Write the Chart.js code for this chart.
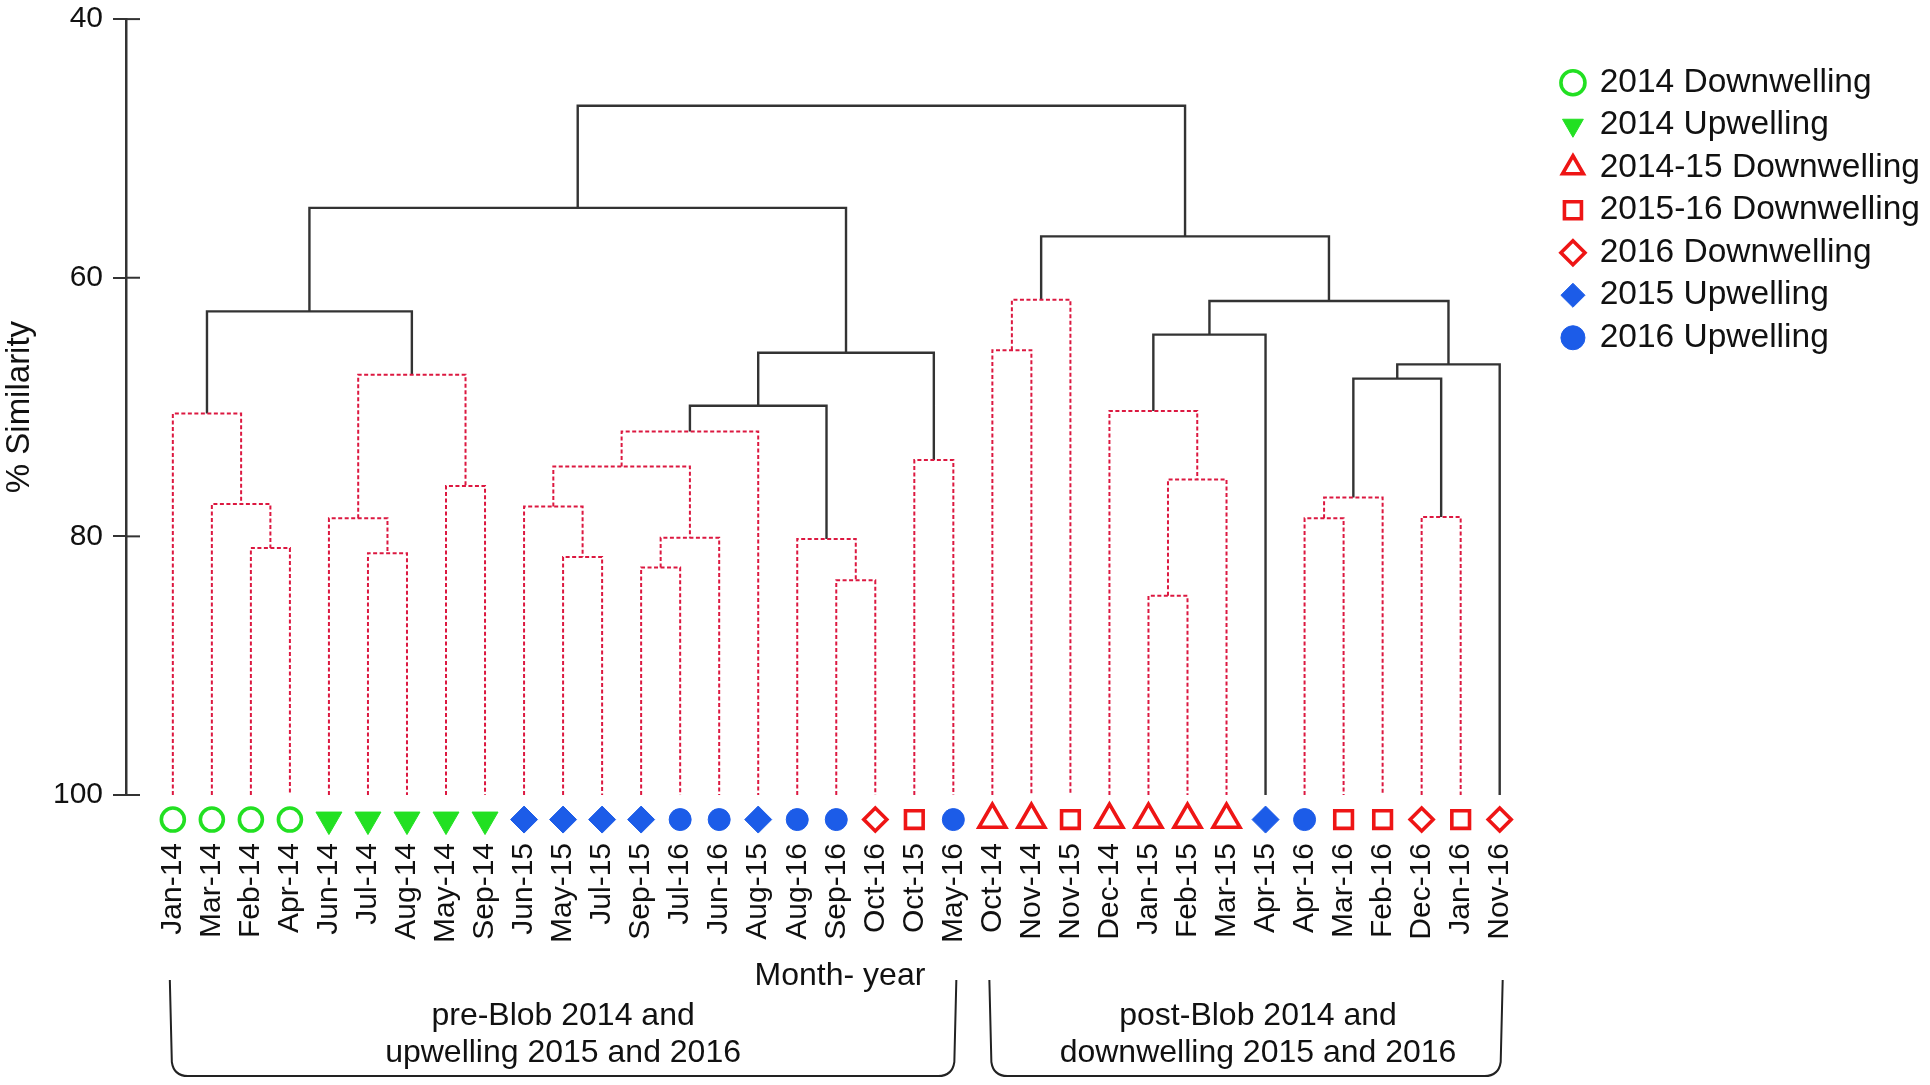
<!DOCTYPE html>
<html>
<head>
<meta charset="utf-8">
<title>Month-year similarity dendrogram</title>
<script src="https://cdn.jsdelivr.net/npm/chart.js@4.4.1/dist/chart.umd.min.js"></script>
<style>
  html, body { margin: 0; padding: 0; background: #fff; }
</style>
</head>
<body>
<canvas id="dendro" width="1930" height="1085"></canvas>
<script>
const leaf_labels = [
  "Jan-14", "Mar-14", "Feb-14", "Apr-14", "Jun-14", "Jul-14", "Aug-14", "May-14", "Sep-14",
  "Jun-15", "May-15", "Jul-15", "Sep-15", "Jul-16", "Jun-16", "Aug-15", "Aug-16", "Sep-16",
  "Oct-16", "Oct-15", "May-16", "Oct-14", "Nov-14", "Nov-15", "Dec-14", "Jan-15", "Feb-15",
  "Mar-15", "Apr-15", "Apr-16", "Mar-16", "Feb-16", "Dec-16", "Jan-16", "Nov-16",
];
const leaf_groups = [
  0, 0, 0, 0, 1, 1, 1, 1, 1,
  5, 5, 5, 5, 6, 6, 5, 6, 6,
  4, 3, 6, 2, 2, 3, 2, 2, 2,
  2, 5, 6, 3, 3, 4, 3, 4,
];
const group_names = [
  "2014 Downwelling", "2014 Upwelling", "2014-15 Downwelling", "2015-16 Downwelling",
  "2016 Downwelling", "2015 Upwelling", "2016 Upwelling",
];

// [left, right, % similarity, significant]; ids < 35 are leaves, 35 + k is merge k
const linkage = [
  [2, 3, 80.9, 0], [1, 35, 77.5, 0], [0, 36, 70.5, 0],
  [5, 6, 81.3, 0], [4, 38, 78.6, 0], [7, 8, 76.1, 0], [39, 40, 67.5, 0],
  [37, 41, 62.6, 1],
  [10, 11, 81.6, 0], [9, 43, 77.7, 0], [12, 13, 82.4, 0], [45, 14, 80.1, 0],
  [44, 46, 74.6, 0], [47, 15, 71.9, 0], [17, 18, 83.4, 0], [16, 49, 80.2, 0],
  [48, 50, 69.9, 1], [19, 20, 74.1, 0], [51, 52, 65.8, 1], [42, 53, 54.6, 1],
  [21, 22, 65.6, 0], [55, 23, 61.7, 0],
  [25, 26, 84.6, 0], [57, 27, 75.6, 0], [24, 58, 70.3, 0], [59, 28, 64.4, 1],
  [29, 30, 78.6, 0], [61, 31, 77.0, 0], [32, 33, 78.5, 0], [62, 63, 67.8, 1],
  [64, 34, 66.7, 1], [60, 65, 61.8, 1], [56, 66, 56.8, 1], [54, 67, 46.7, 1],
];
const y_ticks = [40, 60, 80, 100];

const bracket_first = [0, 21];
const bracket_last = [20, 34];
const bracket_text = [
  ["pre-Blob 2014 and", "upwelling 2015 and 2016"],
  ["post-Blob 2014 and", "downwelling 2015 and 2016"],
];

const font_family = "'Liberation Sans', Arial, sans-serif";
const green = "#22e022";
const red = "#ee1515";
const blue = "#1c5ce8";
const group_styles = [
  { shape: "circle", color: green, filled: false, radius: 11.5 },
  { shape: "triangle", color: green, filled: true, radius: 15, rotation: 180 },
  { shape: "triangle", color: red, filled: false, radius: 15.5 },
  { shape: "rect", color: red, filled: false, radius: 12.5 },
  { shape: "rectRot", color: red, filled: false, radius: 11.5 },
  { shape: "rectRot", color: blue, filled: true, radius: 13.5 },
  { shape: "circle", color: blue, filled: true, radius: 11 },
];
const marker_level = 101.9;
const bracket_text_shift = [0, 12];

// leaf i sits at x = i, each merge in the middle of its two children
const node_x = leaf_labels.map((_, i) => i);
const node_sim = leaf_labels.map(() => 100);
linkage.forEach(([a, b, sim]) => {
  node_x.push((node_x[a] + node_x[b]) / 2);
  node_sim.push(sim);
});

const marker_sets = group_names.map((name, g) => {
  const st = group_styles[g];
  return {
    label: name,
    data: leaf_labels
      .map((_, i) => ({ x: i, y: marker_level }))
      .filter((p) => leaf_groups[p.x] === g),
    pointStyle: st.shape,
    pointRotation: st.rotation || 0,
    pointRadius: st.radius,
    pointHoverRadius: st.radius,
    pointBorderWidth: st.filled ? 1 : 3.6,
    pointBackgroundColor: st.filled ? st.color : "#fff",
    pointBorderColor: st.color,
    backgroundColor: st.filled ? st.color : "#fff",
    borderColor: st.color,
    clip: false,
  };
});

const link_sets = linkage.map(([a, b, sim, sig]) => ({
  label: "",
  data: [
    { x: node_x[a], y: node_sim[a] },
    { x: node_x[a], y: sim },
    { x: node_x[b], y: sim },
    { x: node_x[b], y: node_sim[b] },
  ],
  showLine: true,
  pointRadius: 0,
  borderColor: sig ? "#333" : "#dc1840",
  borderWidth: sig ? 2.4 : 2,
  borderDash: sig ? [] : [4, 2.5],
  borderCapStyle: "butt",
  borderJoinStyle: "miter",
  tension: 0,
  fill: false,
}));

const extras = {
  id: "extras",
  afterDatasetsDraw(chart) {
    // markers sit just under the 100 line, outside the plot area
    group_names.forEach((_, i) => {
      chart.getDatasetMeta(i).data.forEach((pt) => pt.draw(chart.ctx));
    });
  },
  afterDraw(chart) {
    const { ctx, chartArea, scales } = chart;
    ctx.save();
    // y ticks cross the axis line
    ctx.strokeStyle = "#333";
    ctx.lineWidth = 2;
    y_ticks.forEach((v) => {
      const y = scales.y.getPixelForValue(v);
      ctx.beginPath();
      ctx.moveTo(chartArea.left, y);
      ctx.lineTo(chartArea.left + 14, y);
      ctx.stroke();
    });

    // group brackets under the axis
    const top = 980;
    const bot = chart.height - 9;
    ctx.strokeStyle = "#222";
    ctx.lineWidth = 2;
    ctx.fillStyle = "#111";
    ctx.font = "32px " + font_family;
    ctx.textAlign = "center";
    ctx.textBaseline = "middle";
    bracket_text.forEach((lines, k) => {
      const x0 = scales.x.getPixelForValue(bracket_first[k]) - 3;
      const x1 = scales.x.getPixelForValue(bracket_last[k]) + 3;
      ctx.beginPath();
      ctx.moveTo(x0, top);
      ctx.lineTo(x0 + 2, bot - 14);
      ctx.quadraticCurveTo(x0 + 4, bot, x0 + 18, bot);
      ctx.lineTo(x1 - 18, bot);
      ctx.quadraticCurveTo(x1 - 4, bot, x1 - 2, bot - 14);
      ctx.lineTo(x1, top);
      ctx.stroke();
      const cx = (x0 + x1) / 2 + bracket_text_shift[k];
      ctx.fillText(lines[0], cx, 1016);
      ctx.fillText(lines[1], cx, 1053);
    });
    ctx.restore();
  },
};

new Chart(document.getElementById("dendro"), {
  type: "scatter",
  data: { datasets: [...marker_sets, ...link_sets] },
  options: {
    responsive: false,
    devicePixelRatio: 1,
    animation: false,
    events: [],
    layout: { padding: { top: 17, right: 0, bottom: 90, left: 0 } },
    plugins: {
      tooltip: { enabled: false },
      legend: {
        position: "right",
        align: "start",
        title: { display: true, text: "", font: { size: 10 }, padding: { top: 28, bottom: 0 } },
        labels: {
          usePointStyle: true,
          boxWidth: 20,
          boxHeight: 17,
          padding: 9,
          color: "#111",
          font: { size: 33.5, family: font_family },
          filter: (item) => item.datasetIndex < group_names.length,
        },
      },
    },
    scales: {
      x: {
        type: "linear",
        position: "bottom",
        min: -1.2,
        max: 35.39,
        afterBuildTicks: (axis) => {
          axis.ticks = leaf_labels.map((_, i) => ({ value: i }));
        },
        afterFit: (axis) => {
          axis.height = 200;
        },
        ticks: {
          autoSkip: false,
          minRotation: 90,
          maxRotation: 90,
          padding: 48,
          color: "#111",
          font: { size: 30, family: font_family },
          callback: (v) => leaf_labels[v] ?? "",
        },
        grid: { display: false, drawTicks: false },
        border: { display: false },
        title: {
          display: true,
          text: "Month- year",
          color: "#111",
          font: { size: 32, family: font_family },
          padding: { top: 12, bottom: 0 },
        },
      },
      y: {
        type: "linear",
        reverse: true,
        min: 40,
        max: 100,
        afterBuildTicks: (axis) => {
          axis.ticks = y_ticks.map((v) => ({ value: v }));
        },
        afterFit: (axis) => {
          axis.width = 126;
          axis.paddingTop = 0;
          axis.paddingBottom = 0;
        },
        ticks: {
          padding: 10,
          color: "#111",
          font: { size: 30, family: font_family },
        },
        grid: {
          drawOnChartArea: false,
          drawTicks: true,
          tickLength: 13,
          color: "#333",
          lineWidth: 2,
        },
        border: { color: "#333", width: 2.5 },
        title: {
          display: true,
          text: "% Similarity",
          color: "#111",
          font: { size: 33, family: font_family },
          padding: { top: 0, bottom: 15 },
        },
      },
    },
  },
  plugins: [extras],
});
</script>
</body>
</html>
